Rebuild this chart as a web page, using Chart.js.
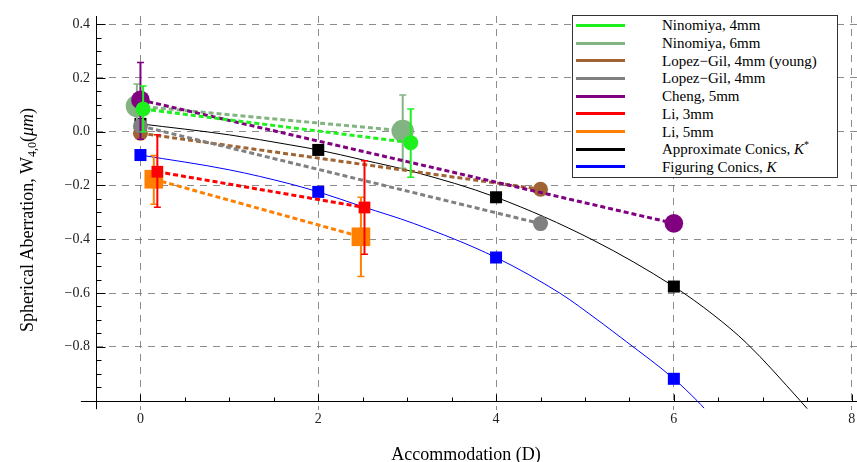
<!DOCTYPE html>
<html>
<head>
<meta charset="utf-8">
<script src="https://cdn.jsdelivr.net/npm/chart.js@4.4.0/dist/chart.umd.min.js"></script>
<style>
html, body { margin: 0; padding: 0; background: #fff; }
#wrap { position: relative; width: 857px; height: 462px; font-family: "Liberation Serif", "Times New Roman", serif; color: #000; }
#chart { position: absolute; left: 0; top: 0; }
#ytitle { position: absolute; left: -123px; top: 209px; width: 300px; height: 22px; line-height: 22px;
  text-align: center; font-size: 18px; white-space: nowrap; transform: rotate(-90deg); }
#ytitle sub { font-size: 12px; vertical-align: -3px; line-height: 0; }
#xtitle { position: absolute; left: 316px; top: 443px; width: 300px; height: 22px; line-height: 22px;
  text-align: center; font-size: 18px; white-space: nowrap; }
#legend { position: absolute; left: 572px; top: 15px; width: 264px; height: 161px; border: 1px solid #333; background: #fff; }
#legend .row { position: absolute; left: 0; width: 100%; height: 18px; }
#legend .swatch { position: absolute; left: 3px; top: 7.5px; width: 49px; height: 3px; }
#legend .lbl { position: absolute; left: 89px; top: 0; font-size: 15px; line-height: 18px; white-space: nowrap; }
#legend sup { font-size: 10px; line-height: 0; }
</style>
</head>
<body>
<div id="wrap">
  <canvas id="chart" width="857" height="462"></canvas>
  <div id="ytitle">Spherical Aberration, W<sub>4,0</sub>(<i>μm</i>)</div>
  <div id="xtitle">Accommodation (D)</div>
  <div id="legend"></div>
</div>
<script>
// measured series: accommodation (D) and W4,0 (um), error bar low/high
const ninomiya4X = [0.03, 3.04];
const ninomiya4Y = [0.084, -0.041];
const ninomiya4Lo = [0.0, -0.17];
const ninomiya4Hi = [0.17, 0.084];

const ninomiya6X = [-0.04, 2.95];
const ninomiya6Y = [0.095, 0.003];
const ninomiya6Lo = [0.013, -0.136];
const ninomiya6Hi = [0.177, 0.136];

const lopezYoungX = [0.0, 4.5];
const lopezYoungY = [-0.006, -0.214];

const lopezX = [0.0, 4.5];
const lopezY = [0.021, -0.342];

const chengX = [0.0, 6.0];
const chengY = [0.118, -0.341];
const chengLo = [-0.028, null];
const chengHi = [0.257, null];

const li3X = [0.19, 2.52];
const li3Y = [-0.149, -0.282];
const li3Lo = [-0.281, -0.456];
const li3Hi = [-0.012, -0.108];

const li5X = [0.15, 2.48];
const li5Y = [-0.177, -0.391];
const li5Lo = [-0.27, -0.539];
const li5Hi = [-0.089, -0.244];

// model points
const conicX = [0, 2, 4, 6];
const approxK = [0.029, -0.068, -0.244, -0.576];
const figuringK = [-0.087, -0.224, -0.468, -0.919];

// model curves
const approxCurveX = [0, 1, 1.68, 2, 2.5, 3.07, 4, 5.09, 6, 6.44, 6.82, 7.42, 7.5];
const approxCurveY = [0.029, -0.012, -0.049, -0.068, -0.105, -0.149, -0.244, -0.403, -0.576, -0.68, -0.787, -1.0, -1.03];
const figuringCurveX = [0, 1, 1.68, 2, 2.5, 3.07, 4, 4.72, 4.94, 5.47, 6, 6.26, 6.34];
const figuringCurveY = [-0.087, -0.142, -0.194, -0.224, -0.279, -0.341, -0.468, -0.601, -0.651, -0.782, -0.919, -1.0, -1.028];

const xTicks = [0, 2, 4, 6, 8];
const yTicks = [-0.8, -0.6, -0.4, -0.2, 0.0, 0.2, 0.4];

const legendLabels = [
    'Ninomiya, 4mm',
    'Ninomiya, 6mm',
    'Lopez\u2212Gil, 4mm (young)',
    'Lopez\u2212Gil, 4mm',
    'Cheng, 5mm',
    'Li, 3mm',
    'Li, 5mm',
    'Approximate Conics, <i>K</i><sup>*</sup>',
    'Figuring Conics, <i>K</i>'
];

const GREEN = 'rgb(30,240,30)';
const SAGE = 'rgb(130,180,130)';
const BROWN = 'rgb(160,100,50)';
const GRAY = 'rgb(128,128,128)';
const PURPLE = 'rgb(128,0,128)';
const RED = 'rgb(255,0,0)';
const ORANGE = 'rgb(255,128,0)';
const BLACK = 'rgb(0,0,0)';
const BLUE = 'rgb(0,0,255)';
const legendColors = [GREEN, SAGE, BROWN, GRAY, PURPLE, RED, ORANGE, BLACK, BLUE];

const zip = (xs, ys) => xs.map((x, i) => ({ x: x, y: ys[i] }));

function measured(label, xs, ys, color, radius, style, order, lo, hi) {
    return {
        label: label,
        data: zip(xs, ys),
        showLine: true,
        borderColor: color,
        borderWidth: 3,
        borderDash: [5, 3],
        backgroundColor: color,
        pointBackgroundColor: color,
        pointBorderWidth: 0,
        pointRadius: radius,
        pointStyle: style,
        order: order,
        errLo: lo,
        errHi: hi
    };
}

function modelCurve(label, xs, ys, color, order) {
    return {
        label: label,
        data: zip(xs, ys),
        showLine: true,
        borderColor: color,
        borderWidth: 1,
        pointRadius: 0,
        cubicInterpolationMode: 'monotone',
        order: order
    };
}

function modelPoints(label, xs, ys, color, order) {
    return {
        label: label,
        data: zip(xs, ys),
        showLine: false,
        backgroundColor: color,
        pointBackgroundColor: color,
        pointBorderWidth: 0,
        pointRadius: 8.5,
        pointStyle: 'rect',
        order: order
    };
}

// Mathematica-like axes crossing at (-0.5, -1.0) with inward ticks
const axesPlugin = {
    id: 'axes',
    beforeDatasetsDraw(chart) {
        const { ctx } = chart;
        const xs = chart.scales.x, ys = chart.scales.y;
        const ax = Math.round(xs.getPixelForValue(-0.5)) + 0.5;
        const ay = Math.round(ys.getPixelForValue(-1.0)) + 0.5;
        ctx.save();
        ctx.strokeStyle = '#000';
        ctx.lineWidth = 1;
        ctx.beginPath();
        ctx.moveTo(xs.getPixelForValue(-0.67), ay);
        ctx.lineTo(chart.width, ay);
        ctx.moveTo(ax, ys.getPixelForValue(0.43));
        ctx.lineTo(ax, ys.getPixelForValue(-1.032));
        for (let i = 1; i <= 17; i++) {
            const v = -0.5 + i * 0.5;
            const px = Math.round(xs.getPixelForValue(v)) + 0.5;
            const len = (v % 2 === 0) ? 7 : 4;
            ctx.moveTo(px, ay);
            ctx.lineTo(px, ay - len);
        }
        for (let i = 1; i <= 28; i++) {
            const v = -1.0 + i * 0.05;
            const py = Math.round(ys.getPixelForValue(v)) + 0.5;
            const major = i % 4 === 0;
            ctx.moveTo(ax, py);
            ctx.lineTo(ax + (major ? 9 : 5), py);
        }
        ctx.stroke();
        ctx.restore();
    }
};

const errorBarPlugin = {
    id: 'errorBars',
    afterDatasetDraw(chart, args) {
        const ds = chart.data.datasets[args.index];
        if (!ds.errLo) return;
        const { ctx } = chart;
        const xs = chart.scales.x, ys = chart.scales.y;
        ctx.save();
        ctx.strokeStyle = ds.borderColor;
        ds.data.forEach((p, i) => {
            if (ds.errLo[i] == null) return;
            const px = xs.getPixelForValue(p.x);
            const top = ys.getPixelForValue(ds.errHi[i]);
            const bot = ys.getPixelForValue(ds.errLo[i]);
            ctx.lineWidth = 2;
            ctx.beginPath();
            ctx.moveTo(px, top);
            ctx.lineTo(px, bot);
            ctx.stroke();
            ctx.lineWidth = 1.5;
            ctx.beginPath();
            ctx.moveTo(px - 3.5, top);
            ctx.lineTo(px + 3.5, top);
            ctx.moveTo(px - 3.5, bot);
            ctx.lineTo(px + 3.5, bot);
            ctx.stroke();
        });
        ctx.restore();
    }
};

const tickFont = { family: 'Liberation Serif', size: 14 };
const gridColor = 'rgba(120,120,120,0.85)';

new Chart(document.getElementById('chart').getContext('2d'), {
    type: 'scatter',
    data: {
        datasets: [
            measured(legendLabels[0], ninomiya4X, ninomiya4Y, GREEN, 7.5, 'circle', 3, ninomiya4Lo, ninomiya4Hi),
            measured(legendLabels[1], ninomiya6X, ninomiya6Y, SAGE, 11.2, 'circle', 7, ninomiya6Lo, ninomiya6Hi),
            measured(legendLabels[2], lopezYoungX, lopezYoungY, BROWN, 7.5, 'circle', 6),
            measured(legendLabels[3], lopezX, lopezY, GRAY, 7.5, 'circle', 5),
            measured(legendLabels[4], chengX, chengY, PURPLE, 9.3, 'circle', 4, chengLo, chengHi),
            measured(legendLabels[5], li3X, li3Y, RED, 8.3, 'rect', 1, li3Lo, li3Hi),
            measured(legendLabels[6], li5X, li5Y, ORANGE, 13.2, 'rect', 2, li5Lo, li5Hi),
            modelCurve('approx curve', approxCurveX, approxCurveY, BLACK, 9),
            modelPoints('approx', conicX, approxK, BLACK, 8),
            modelCurve('figuring curve', figuringCurveX, figuringCurveY, BLUE, 11),
            modelPoints('figuring', conicX, figuringK, BLUE, 10)
        ]
    },
    options: {
        responsive: false,
        animation: false,
        devicePixelRatio: 1,
        layout: { autoPadding: false, padding: { top: 16, right: 0, left: 0, bottom: 0 } },
        plugins: { legend: { display: false }, tooltip: { enabled: false } },
        scales: {
            x: {
                type: 'linear',
                min: -0.5,
                max: 8.06,
                afterFit: s => { s.height = 52; s.paddingLeft = 0; s.paddingRight = 0; },
                afterBuildTicks: s => { s.ticks = xTicks.map(v => ({ value: v })); },
                ticks: {
                    autoSkip: false,
                    maxRotation: 0,
                    padding: 1,
                    color: '#222',
                    font: tickFont,
                    callback: v => String(v)
                },
                grid: { color: gridColor, drawTicks: false },
                border: { display: false, dash: [7, 6] }
            },
            y: {
                type: 'linear',
                min: -1.035,
                max: 0.43,
                afterFit: s => { s.width = 96; s.paddingTop = 0; s.paddingBottom = 0; },
                afterBuildTicks: s => { s.ticks = yTicks.map(v => ({ value: v })); },
                ticks: {
                    autoSkip: false,
                    padding: 6,
                    color: '#222',
                    font: tickFont,
                    callback: v => v.toFixed(1).replace('-', '\u2212')
                },
                grid: { color: gridColor, drawTicks: false },
                border: { display: false, dash: [7, 6] }
            }
        }
    },
    plugins: [axesPlugin, errorBarPlugin]
});

// legend box inside the plot, top right
const legendBox = document.getElementById('legend');
legendLabels.forEach((txt, i) => {
    const row = document.createElement('div');
    row.className = 'row';
    row.style.top = (0.3 + i * 17.7) + 'px';
    const sw = document.createElement('div');
    sw.className = 'swatch';
    sw.style.background = legendColors[i];
    const lbl = document.createElement('div');
    lbl.className = 'lbl';
    lbl.innerHTML = txt;
    row.appendChild(sw);
    row.appendChild(lbl);
    legendBox.appendChild(row);
});
</script>
</body>
</html>
